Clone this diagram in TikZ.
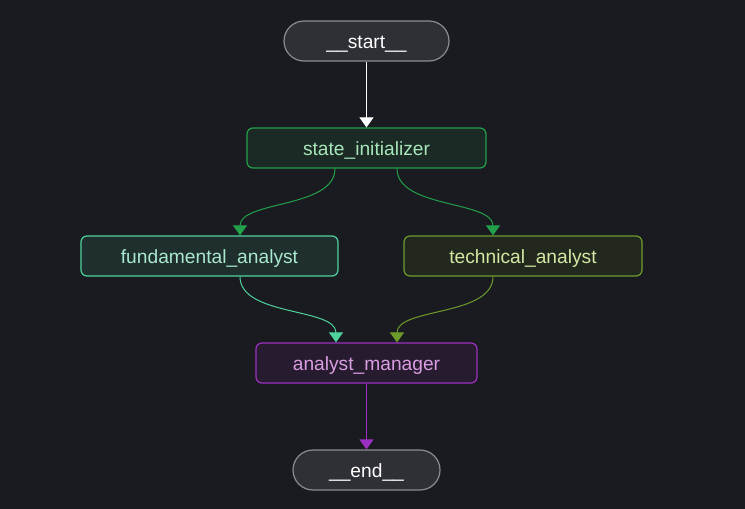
\documentclass[tikz,border=0pt]{standalone}
\usepackage{fontspec}
\setmainfont{Liberation Sans}
\usetikzlibrary{arrows.meta}
\definecolor{bg}{HTML}{1A1B20}
\definecolor{termfill}{HTML}{2F3036}
\definecolor{termdraw}{HTML}{8C8C90}
\definecolor{sifill}{HTML}{1B2A25}
\definecolor{sidraw}{HTML}{23A04A}
\definecolor{sitext}{HTML}{A6E6B8}
\definecolor{fafill}{HTML}{1F2F2E}
\definecolor{fadraw}{HTML}{4FD39C}
\definecolor{fatext}{HTML}{A9E7CE}
\definecolor{tafill}{HTML}{23281F}
\definecolor{tadraw}{HTML}{6E9C2B}
\definecolor{tatext}{HTML}{D3E8A2}
\definecolor{amfill}{HTML}{271B2F}
\definecolor{amdraw}{HTML}{9C30C2}
\definecolor{amtext}{HTML}{DA9DE2}
\begin{document}
\begin{tikzpicture}[x=1pt,y=-1pt,
  box/.style={draw,line width=1.2pt,rounded corners=6pt,minimum height=40pt,inner sep=0pt,text height=14pt,text depth=0pt,font=\fontsize{19.2}{21}\selectfont},
  term/.style={box,draw=termdraw,fill=termfill,text=white,rounded corners=20pt},
  conn/.style={line width=1pt,-{Triangle[width=14pt,length=10pt]}}]
\fill[bg] (0,0) rectangle (745,509);
\useasboundingbox (0,0) rectangle (745,509);
\node[term,minimum width=165pt] (start) at (366.5,41) {\_\_start\_\_};
\node[box,draw=sidraw,fill=sifill,text=sitext,minimum width=239pt] (si) at (366.5,148) {state\_initializer};
\node[box,draw=fadraw,fill=fafill,text=fatext,minimum width=257pt] (fa) at (209.5,256) {fundamental\_analyst};
\node[box,draw=tadraw,fill=tafill,text=tatext,minimum width=238pt] (ta) at (523,256) {technical\_analyst};
\node[box,draw=amdraw,fill=amfill,text=amtext,minimum width=221pt] (am) at (366.5,363) {analyst\_manager};
\node[term,minimum width=147pt] (end) at (366.5,470) {\_\_end\_\_};
\draw[conn,white] (start.south) -- (si.north);
\draw[conn,sidraw] ([xshift=-31.5pt]si.south) .. controls +(0,40) and +(0,-35) .. ([xshift=30.5pt]fa.north);
\draw[conn,sidraw] ([xshift=30.5pt]si.south) .. controls +(0,40) and +(0,-35) .. ([xshift=-30pt]ta.north);
\draw[conn,fadraw] ([xshift=30.5pt]fa.south) .. controls +(0,40) and +(0,-35) .. ([xshift=-30.5pt]am.north);
\draw[conn,tadraw] ([xshift=-30pt]ta.south) .. controls +(0,40) and +(0,-35) .. ([xshift=30.5pt]am.north);
\draw[conn,amdraw] (am.south) -- (end.north);
\end{tikzpicture}
\end{document}
